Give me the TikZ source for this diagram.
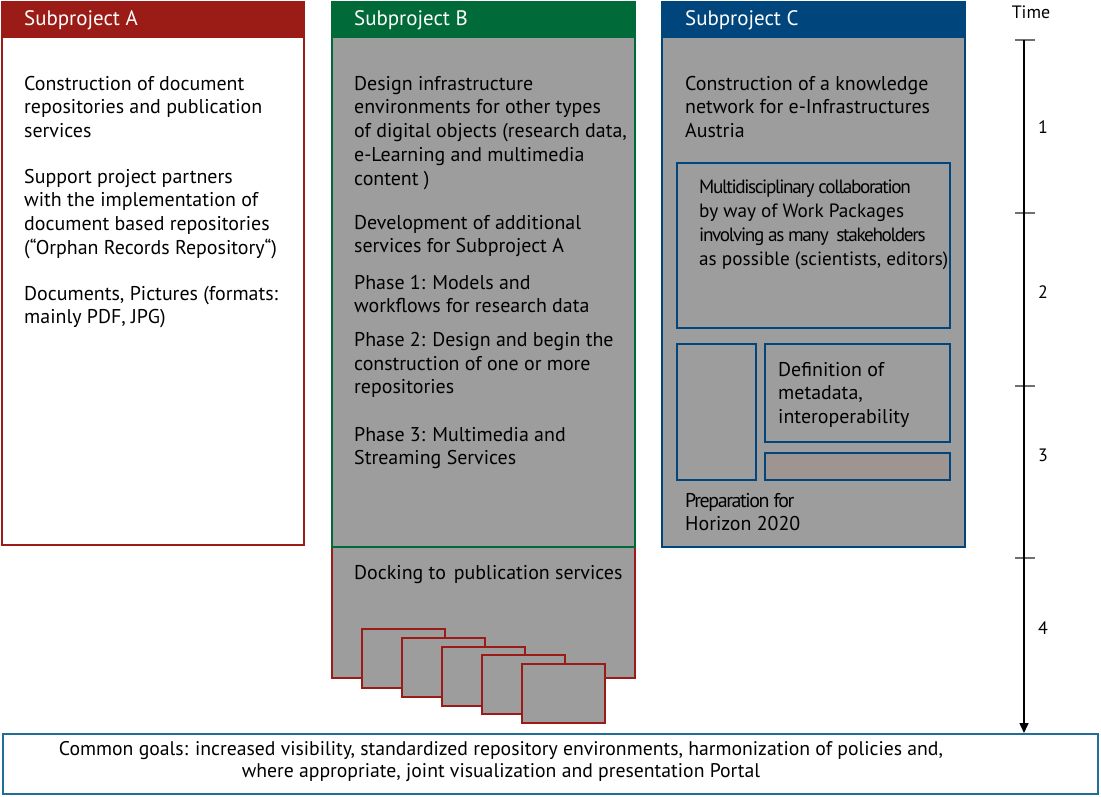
\documentclass[tikz,border=0pt]{standalone}
\usepackage{fontspec}
\setmainfont{PT Sans}
\newfontfamily\condfont[LetterSpace=-7]{PT Sans}
\usetikzlibrary{arrows.meta}
\definecolor{ared}{HTML}{9B1C17}
\definecolor{bgreen}{HTML}{006B38}
\definecolor{cblue}{HTML}{00467D}
\definecolor{boxgray}{HTML}{9D9D9D}
\definecolor{pinkgray}{HTML}{9E9491}
\definecolor{goalblue}{HTML}{1E6E96}
\definecolor{tickgray}{HTML}{707070}
\begin{document}
\begin{tikzpicture}[x=1bp,y=-1bp,
  txt/.style={anchor=north west, inner sep=0pt, align=left, font=\fontsize{20}{24}\selectfont},
  stxt/.style={anchor=north west, inner sep=0pt, align=left, font=\fontsize{19.3}{24}\selectfont},
  head/.style={anchor=west, inner sep=0pt, text=white, font=\fontsize{21}{24}\selectfont},
  frame/.style={line width=1.8bp},
  tick/.style={tickgray, line width=1.5bp},
  num/.style={inner sep=0pt, font=\fontsize{18}{24}\selectfont}]
\fill[white] (0,0) rectangle (1101,797);
\useasboundingbox (0,0) rectangle (1101,797);
% Subproject A
\draw[ared, frame, fill=white] (2,2) rectangle (304,545);
\fill[ared] (2,2) rectangle (304,38);
\node[head] (hA) at (24,20) {Subproject A};
\node[txt] (a1) at (24,75.7) {Construction of document\\repositories and publication\\services};
\node[txt] (a2) at (24,168.7) {Support project partners\\with the implementation of\\document based repositories\\(“Orphan Records Repository“)};
\node[txt] (a3) at (24,285.7) {Documents, Pictures (formats:\\mainly PDF, JPG)};
% Docking box
\draw[ared, frame, fill=boxgray] (332,547) rectangle (635,678);
\node[txt] (dock) at (354,564.7) {Docking to\hspace{8bp}publication services};
\foreach \x/\y [count=\i] in {362/629, 402/638, 442/647, 482/655, 522/664}
  \draw[ared, frame, fill=boxgray] (\x,\y) rectangle ++(83,59);
% Subproject B
\draw[bgreen, frame, fill=boxgray] (332,2) rectangle (635,547);
\fill[bgreen] (332,2) rectangle (635,38);
\node[head] (hB) at (354,20) {Subproject B};
\node[txt] (b1) at (354,75.7) {Design infrastructure\\environments for other types\\of digital objects (research data,\\e-Learning and multimedia\\content )};
\node[txt] (b2) at (354,214.7) {Development of additional\\services for Subproject A};
\node[txt] (b3) at (354,274.7) {Phase 1: Models and\\workflows for research data};
\node[txt] (b4) at (354,331.7) {Phase 2: Design and begin the\\construction of one or more\\repositories};
\node[txt] (b5) at (354,426.7) {Phase 3: Multimedia and\\Streaming Services};
% Subproject C
\draw[cblue, frame, fill=boxgray] (662,2) rectangle (965,547);
\fill[cblue] (662,2) rectangle (965,38);
\node[head] (hC) at (685,20) {Subproject C};
\node[txt] (c1) at (685,75.7) {Construction of a knowledge\\network for e-Infrastructures\\Austria};
\draw[cblue, frame] (677,163) rectangle (950,328);
\node[stxt] (c2) at (699,179.9) {{\condfont Multidisciplinary collaboration}\\by way of Work Packages\\{\condfont involving as many\ \ stakeholders}\\as possible (scientists, editors)};
\draw[cblue, frame] (677,344) rectangle (756,480);
\draw[cblue, frame] (765,344) rectangle (950,442);
\node[txt] (c3) at (778,361.7) {Definition of\\metadata,\\interoperability};
\draw[cblue, frame, fill=pinkgray] (765,453) rectangle (950,480);
\node[txt] (c4) at (685,492.7) {{\condfont Preparation for}\\Horizon 2020};
% Time line
\node[num] (time) at (1031,12) {Time};
\coordinate (t0) at (1024,40);
\coordinate (tend) at (1024,733);
\foreach \y in {40,213,386,558}
  \draw[tick] (1015,\y) -- (1035,\y);
\draw[black, line width=1.6bp, -{Triangle[length=10bp,width=9bp]}] (t0) -- (tend);
\node[num] (n1) at (1043,127) {1};
\node[num] (n2) at (1043,292) {2};
\node[num] (n3) at (1043,455) {3};
\node[num] (n4) at (1043,628) {4};
% Common goals
\draw[goalblue, frame] (3,734) rectangle (1098,794);
\node[inner sep=0pt, align=center, font=\fontsize{19.8}{22}\selectfont] (goals) at (501,762) {Common goals: increased visibility, standardized repository environments, harmonization of policies and,\\where appropriate, joint visualization and presentation Portal};
\end{tikzpicture}
\end{document}
